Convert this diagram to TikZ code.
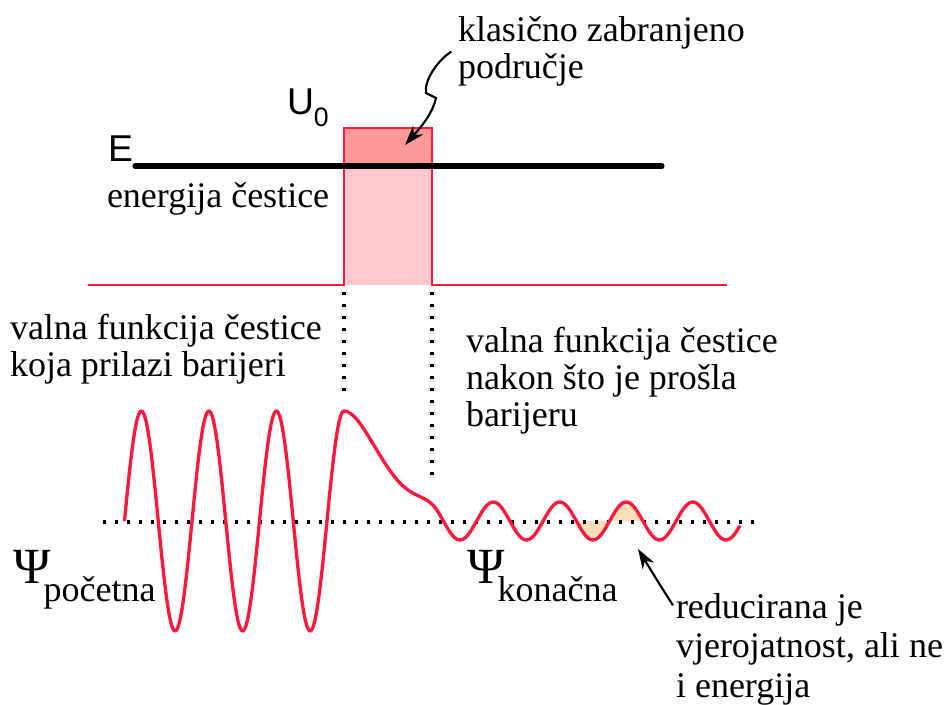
\documentclass[tikz,border=0pt]{standalone}
\usepackage{fontspec}
\setmainfont{Liberation Serif}
\newfontfamily\arialfont{Liberation Sans}
\usetikzlibrary{arrows.meta, positioning}
\definecolor{wavered}{RGB}{255,25,60}
\definecolor{barrierdark}{RGB}{255,152,152}
\definecolor{barrierlight}{RGB}{255,200,204}
\definecolor{areafill}{RGB}{252,222,185}

\begin{document}
\begin{tikzpicture}[x=0.75pt, y=-0.75pt,
  every node/.style={inner sep=0pt, outer sep=0pt, align=left, font=\fontsize{27}{28}\selectfont},
  labeltext/.style={anchor=base west},
  sanslabel/.style={anchor=base west, font=\arialfont\fontsize{28}{28}\selectfont},
  redline/.style={draw=wavered, line width=2.5pt},
  guide/.style={line width=2.4pt, dash pattern=on 2.5pt off 6.5pt},
  pointer/.style={-{Stealth[length=15pt, width=10pt]}, line width=1.6pt}]
    \useasboundingbox (0,0) rectangle (949,705);

    % Barrier
    \fill[barrierlight] (344,166) rectangle (432,285);
    \fill[barrierdark] (344,128) rectangle (432,166);
    \draw[redline, line width=1.9pt] (88,285) -- (344,285) -- (344,128) -- (432,128) -- (432,285) -- (727,285);
    \draw[line width=3.8pt, line cap=round] (135,166) -- (662,166);

    % Guides
    \draw[guide] (344,292) -- (344,398);
    \draw[guide] (432,292) -- (432,480);
    \fill[areafill] (576.4,521) -- plot[domain=576.4:642.9, samples=60] (\x, {521 + 19*cos((\x-460)*5.4135)}) -- cycle;
    \draw[guide] (103,522) -- (762,522);

    % Wave
    \draw[redline, line join=round] plot[domain=124.5:344, samples=200] (\x, {521 - 110*sin((\x-124.5)*5.3333)})
      .. controls (362,411) and (382,472) .. (408,490)
      .. controls (420,498) and (428,499) .. (432,504.3)
      -- plot[domain=432:740, samples=150] (\x, {521 + 19*cos((\x-460)*5.4135)});

    % Nodes (base = last line)
    \node[labeltext] (zone) at (458,79) {klasično zabranjeno\\područje};
    \node[sanslabel] (elabel) at (108,162) {E};
    \node[sanslabel] (ulabel) at (287,115) {U\raisebox{-9pt}{\fontsize{20}{20}\selectfont 0}};
    \node[labeltext] (energy) at (107,208) {energija čestice};
    \node[labeltext] (incoming) at (10,377) {valna funkcija čestice\\koja prilazi barijeri};
    \node[labeltext] (outgoing) at (466,427) {valna funkcija čestice\\nakon što je prošla\\barijeru};
    \node[labeltext] (psiin) at (13,583) {{\fontsize{38}{38}\selectfont Ψ}\kern-5pt\raisebox{-14pt}{početna}};
    \node[labeltext] (psiout) at (467,583) {{\fontsize{38}{38}\selectfont Ψ}\kern-5pt\raisebox{-14pt}{konačna}};
    \node[labeltext, font=\fontsize{27}{29.5}\selectfont] (reduced) at (676,697) {reducirana je\\vjerojatnost, ali ne\\i energija};
    \coordinate (zonetip) at (405,145);
    \coordinate (probtip) at (638,549);

    % Arrows
    \draw[pointer] ([xshift=-5pt]zone.west) .. controls (438,60) and (424,80) .. (426,93) -- (436,98) .. controls (432,115) and (420,128) .. (zonetip);
    \draw[pointer] ([shift={(-3,12)}]reduced.north west) .. controls (660,585) .. (probtip);
\end{tikzpicture}
\end{document}
